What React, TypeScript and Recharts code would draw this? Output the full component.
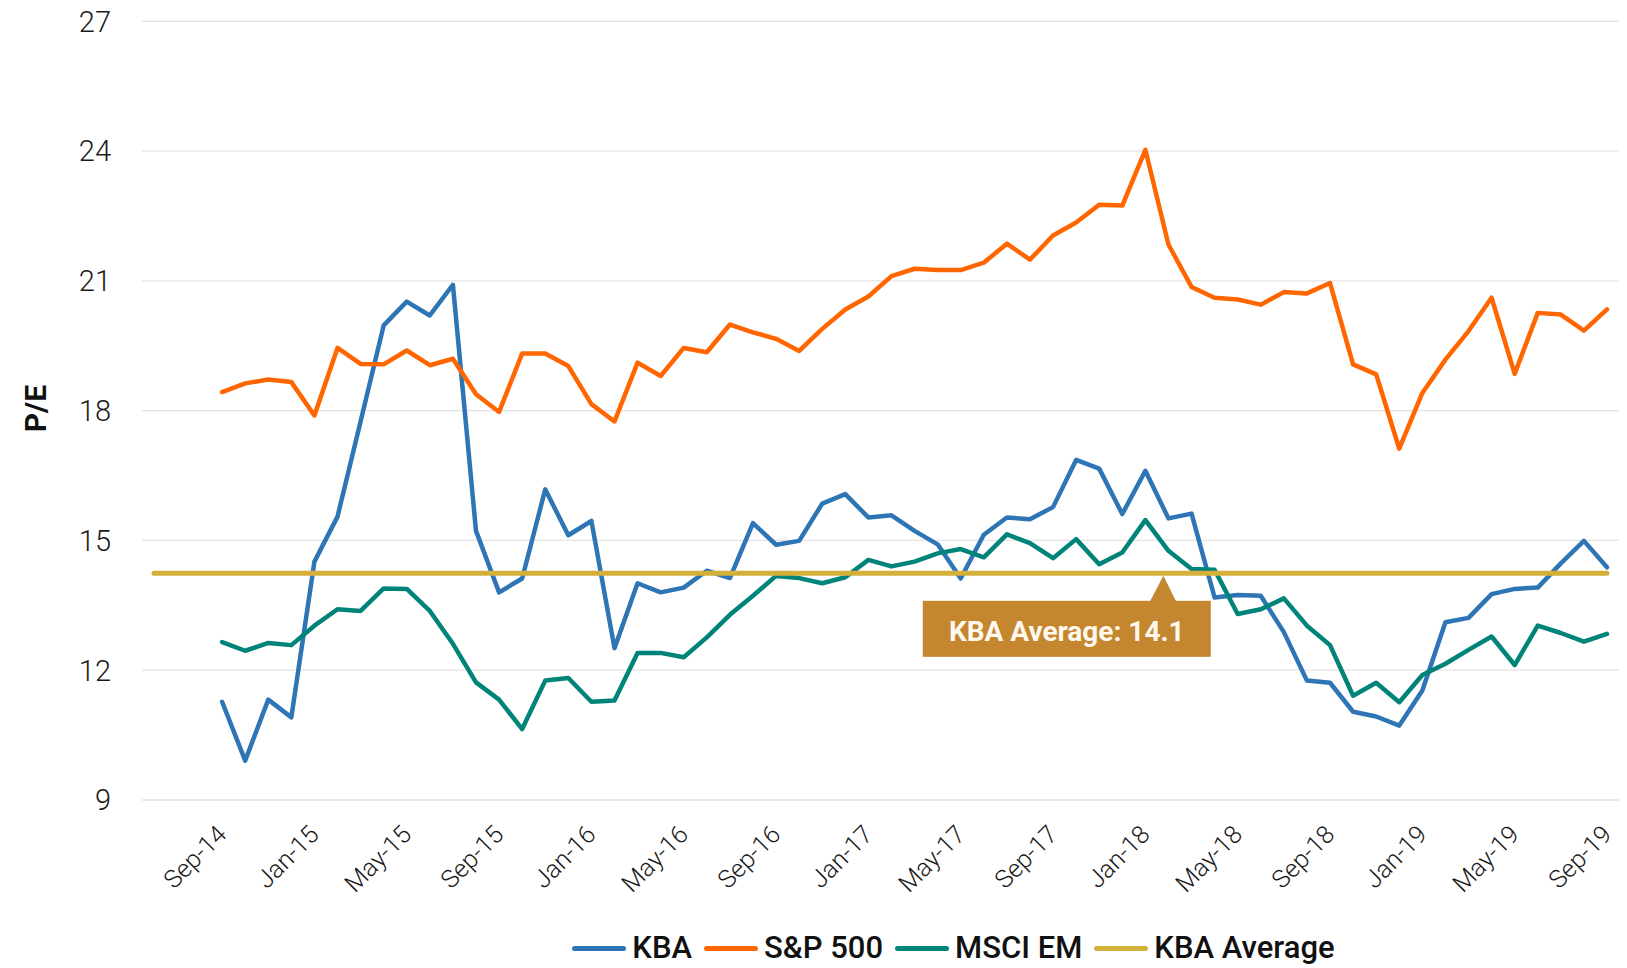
import {
  LineChart,
  Line,
  XAxis,
  YAxis,
  CartesianGrid,
  Legend,
  Label,
  ReferenceDot,
} from "recharts";

// monthly P/E, Sep-14 .. Sep-19
const kba = [
  11.27, 9.91, 11.32, 10.91, 14.51, 15.55, 17.75, 19.97, 20.52, 20.2,
  20.91, 15.22, 13.8, 14.12, 16.18, 15.12, 15.45, 12.51, 14.01, 13.8,
  13.91, 14.3, 14.13, 15.4, 14.9, 14.99, 15.85, 16.07, 15.53, 15.58,
  15.22, 14.91, 14.12, 15.13, 15.53, 15.49, 15.77, 16.86, 16.66, 15.61,
  16.61, 15.51, 15.62, 13.68, 13.74, 13.72, 12.88, 11.76, 11.71, 11.04,
  10.93, 10.72, 11.53, 13.11, 13.21, 13.76, 13.88, 13.91, 14.47, 14.99,
  14.38,
];

const sp500 = [
  18.43, 18.63, 18.72, 18.66, 17.89, 19.45, 19.08, 19.07, 19.39, 19.05,
  19.2, 18.38, 17.97, 19.32, 19.32, 19.03, 18.15, 17.75, 19.11, 18.8,
  19.45, 19.35, 19.99, 19.81, 19.66, 19.38, 19.89, 20.34, 20.64, 21.11,
  21.28, 21.25, 21.25, 21.42, 21.86, 21.49, 22.05, 22.35, 22.76, 22.74,
  24.03, 21.84, 20.86, 20.61, 20.57, 20.45, 20.74, 20.71, 20.95, 19.07,
  18.84, 17.12, 18.41, 19.18, 19.84, 20.61, 18.85, 20.26, 20.22, 19.85,
  20.34,
];

const msciEm = [
  12.65, 12.45, 12.63, 12.58, 13.03, 13.41, 13.37, 13.89, 13.88, 13.37,
  12.61, 11.72, 11.32, 10.64, 11.76, 11.82, 11.27, 11.3, 12.4, 12.4,
  12.3, 12.76, 13.28, 13.72, 14.18, 14.13, 14.01, 14.15, 14.55, 14.4,
  14.51, 14.7, 14.8, 14.61, 15.14, 14.94, 14.59, 15.03, 14.45, 14.72,
  15.47, 14.76, 14.34, 14.32, 13.3, 13.41, 13.66, 13.03, 12.58, 11.41,
  11.71, 11.26, 11.89, 12.15, 12.47, 12.78, 12.12, 13.03, 12.86, 12.66,
  12.84,
];

const tickLabels = [
  "Sep-14", "Jan-15", "May-15", "Sep-15", "Jan-16", "May-16", "Sep-16", "Jan-17",
  "May-17", "Sep-17", "Jan-18", "May-18", "Sep-18", "Jan-19", "May-19", "Sep-19",
];
const yTicks = [9, 12, 15, 18, 21, 24, 27];
const seriesOrder = ["KBA", "S&P 500", "MSCI EM", "KBA Average"];

const kbaAverage = 14.24;
const avgLabel = "KBA Average: 14.1";
const avgSpan = [-2.95, 60];
const calloutAt = 40.78;

const data = kba.map((v, i) => ({ i, kba: v, sp: sp500[i], em: msciEm[i] }));
const avgData = avgSpan.map((i) => ({ i, avg: kbaAverage }));
const xTicks = tickLabels.map((_, k) => k * 4);

const FONT = "Roboto, 'Open Sans', sans-serif";
const W = 1627;
const H = 968;

const XTick = (props: any) => {
  const { x, y, payload } = props;
  const label = tickLabels[xTicks.indexOf(payload.value)];
  const ax = x + 6;
  const ay = y + 36;
  return (
    <text
      x={ax}
      y={ay}
      transform={`rotate(-45, ${ax}, ${ay})`}
      textAnchor="end"
      fontSize={25}
      fontWeight={300}
      fontFamily={FONT}
      fill="#1a1a1a"
    >
      {label}
    </text>
  );
};

const YLabel = (props: any) => {
  const vb = props.viewBox || { x: 8, y: 21, width: 134, height: 779 };
  const cx = vb.x + 27.7;
  const cy = vb.y + vb.height / 2 - 2;
  return (
    <text
      x={cx}
      y={cy}
      transform={`rotate(-90, ${cx}, ${cy})`}
      textAnchor="middle"
      dominantBaseline="central"
      fontSize={30}
      fontWeight={700}
      fontFamily={FONT}
      fill="#111"
    >
      P/E
    </text>
  );
};

const AvgCallout = (props: any) => {
  const { cx, cy } = props;
  if (cx == null || cy == null) return null;
  const left = cx - 240.6;
  const top = cy + 27.5;
  return (
    <g>
      <polygon
        points={`${cx},${cy + 2.5} ${cx - 13.3},${top + 0.5} ${cx + 12.7},${top + 0.5}`}
        fill="#C4862F"
      />
      <rect x={left} y={top} width={288} height={56} fill="#C4862F" />
      <text
        x={left + 144}
        y={cy + 67.5}
        textAnchor="middle"
        fontSize={28}
        fontWeight={700}
        fontFamily={FONT}
        fill="#FFF8EE"
      >
        {avgLabel}
      </text>
    </g>
  );
};

const renderLegend = (props: any) => {
  const items = [...(props.payload || [])].sort(
    (a: any, b: any) => seriesOrder.indexOf(a.value) - seriesOrder.indexOf(b.value)
  );
  return (
    <div
      style={{
        display: "flex",
        justifyContent: "center",
        alignItems: "center",
        height: 32,
        paddingLeft: 280,
        boxSizing: "border-box",
        width: "100%",
        fontFamily: FONT,
      }}
    >
      {items.map((it: any, k: number) => (
        <div
          key={k}
          style={{
            display: "flex",
            alignItems: "center",
            marginRight: k === items.length - 1 ? 0 : 12,
          }}
        >
          <span
            style={{
              display: "inline-block",
              width: 54,
              height: 5,
              borderRadius: 3,
              background: it.color,
              marginRight: 6,
            }}
          />
          <span
            style={{
              fontSize: 31,
              fontWeight: 500,
              lineHeight: "32px",
              color: "#111",
              whiteSpace: "nowrap",
            }}
          >
            {it.value}
          </span>
        </div>
      ))}
    </div>
  );
};

export default function App() {
  return (
    <div style={{ width: W, height: H, fontFamily: FONT }}>
      <style>{"body{margin:0}"}</style>
      <LineChart
        width={W}
        height={H}
        data={data}
        margin={{ top: 21.3, right: 8, left: 8, bottom: 0 }}
      >
        <CartesianGrid vertical={false} stroke="#e3e3e3" strokeWidth={1.3} />
        <XAxis
          type="number"
          dataKey="i"
          domain={[-3.47, 60.52]}
          ticks={xTicks}
          interval={0}
          height={136}
          axisLine={false}
          tickLine={false}
          tickSize={0}
          tickMargin={0}
          tick={<XTick />}
          allowDataOverflow
        />
        <YAxis
          width={134}
          domain={[9, 27]}
          ticks={yTicks}
          axisLine={false}
          tickLine={false}
          tickSize={0}
          tickMargin={31}
          tick={{ fontSize: 29, fontWeight: 300, fontFamily: FONT, fill: "#1a1a1a" }}
        >
          <Label content={<YLabel />} />
        </YAxis>
        <Legend
          verticalAlign="bottom"
          wrapperStyle={{ bottom: 3.6, left: 0, width: W }}
          content={renderLegend}
        />
        <Line
          name="KBA"
          type="linear"
          dataKey="kba"
          stroke="#2E75B6"
          strokeWidth={4.5}
          strokeLinejoin="round"
          strokeLinecap="round"
          dot={false}
          activeDot={false}
          isAnimationActive={false}
        />
        <Line
          name="S&P 500"
          type="linear"
          dataKey="sp"
          stroke="#FF6600"
          strokeWidth={4.5}
          strokeLinejoin="round"
          strokeLinecap="round"
          dot={false}
          activeDot={false}
          isAnimationActive={false}
        />
        <Line
          name="MSCI EM"
          type="linear"
          dataKey="em"
          stroke="#008479"
          strokeWidth={4.5}
          strokeLinejoin="round"
          strokeLinecap="round"
          dot={false}
          activeDot={false}
          isAnimationActive={false}
        />
        <Line
          name="KBA Average"
          type="linear"
          data={avgData}
          dataKey="avg"
          stroke="#D4B03A"
          strokeWidth={5}
          strokeLinecap="round"
          dot={false}
          activeDot={false}
          isAnimationActive={false}
        />
        <ReferenceDot
          x={calloutAt}
          y={kbaAverage}
          r={0}
          shape={(p: any) => <AvgCallout {...p} />}
        />
      </LineChart>
    </div>
  );
}
